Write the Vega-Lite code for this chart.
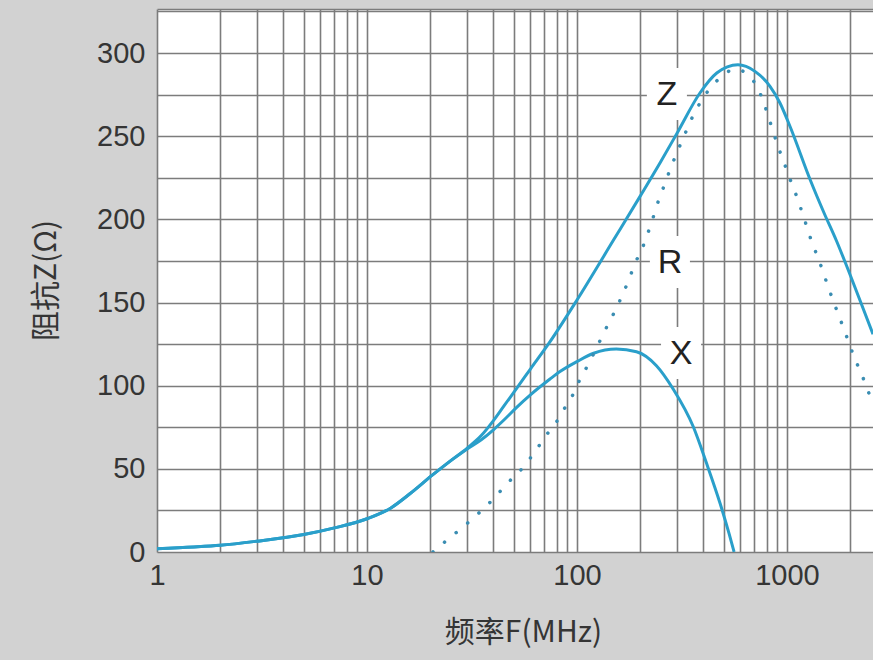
{
  "$schema": "https://vega.github.io/schema/vega-lite/v6.json",
  "width": 716,
  "height": 543,
  "autosize": {"type": "none"},
  "padding": {"left": 157, "top": 9, "right": 0, "bottom": 108},
  "background": "#d2d2d2",
  "view": {"fill": "white", "stroke": null},
  "config": {
    "axis": {
      "domain": false,
      "ticks": false,
      "grid": true,
      "gridColor": "#7c7c7c",
      "gridWidth": 1.6,
      "gridOpacity": 1,
      "labelFont": "Liberation Sans",
      "labelFontSize": 29,
      "labelColor": "#353535",
      "titleFont": "Noto Sans CJK SC",
      "titleFontSize": 30,
      "titleFontWeight": "normal",
      "titleColor": "#353535"
    }
  },
  "datasets": {
    "curves": [
      {"s": "Z", "f": 1, "v": 2}, {"s": "Z", "f": 1.5, "v": 3}, {"s": "Z", "f": 2, "v": 4}, {"s": "Z", "f": 3, "v": 6.5},
      {"s": "Z", "f": 5, "v": 10.5}, {"s": "Z", "f": 7, "v": 14.5}, {"s": "Z", "f": 10, "v": 20}, {"s": "Z", "f": 13, "v": 26.5},
      {"s": "Z", "f": 16, "v": 35}, {"s": "Z", "f": 20.6, "v": 46.5}, {"s": "Z", "f": 24.8, "v": 54.5}, {"s": "Z", "f": 30, "v": 62.5},
      {"s": "Z", "f": 35, "v": 70}, {"s": "Z", "f": 40, "v": 79}, {"s": "Z", "f": 45, "v": 88}, {"s": "Z", "f": 52, "v": 99},
      {"s": "Z", "f": 60, "v": 110}, {"s": "Z", "f": 74, "v": 126}, {"s": "Z", "f": 100, "v": 151.5}, {"s": "Z", "f": 150, "v": 188},
      {"s": "Z", "f": 200, "v": 214}, {"s": "Z", "f": 250, "v": 234.5}, {"s": "Z", "f": 300, "v": 252}, {"s": "Z", "f": 385, "v": 276},
      {"s": "Z", "f": 463, "v": 288}, {"s": "Z", "f": 584, "v": 293}, {"s": "Z", "f": 704, "v": 289}, {"s": "Z", "f": 830, "v": 280},
      {"s": "Z", "f": 926, "v": 270}, {"s": "Z", "f": 1033, "v": 256}, {"s": "Z", "f": 1288, "v": 224}, {"s": "Z", "f": 1500, "v": 204},
      {"s": "Z", "f": 1722, "v": 187}, {"s": "Z", "f": 1889, "v": 174.5}, {"s": "Z", "f": 2200, "v": 153}, {"s": "Z", "f": 2568, "v": 131},

      {"s": "X", "f": 1, "v": 2}, {"s": "X", "f": 1.5, "v": 3}, {"s": "X", "f": 2, "v": 4}, {"s": "X", "f": 3, "v": 6.5},
      {"s": "X", "f": 5, "v": 10.5}, {"s": "X", "f": 7, "v": 14.5}, {"s": "X", "f": 10, "v": 20}, {"s": "X", "f": 13, "v": 26.5},
      {"s": "X", "f": 16, "v": 35}, {"s": "X", "f": 20.6, "v": 46.5}, {"s": "X", "f": 24.8, "v": 54.5}, {"s": "X", "f": 30, "v": 62},
      {"s": "X", "f": 35, "v": 67.5}, {"s": "X", "f": 40, "v": 73.5}, {"s": "X", "f": 45, "v": 79.5}, {"s": "X", "f": 51.6, "v": 87},
      {"s": "X", "f": 60, "v": 94.5}, {"s": "X", "f": 74.4, "v": 104}, {"s": "X", "f": 83, "v": 108.5}, {"s": "X", "f": 100, "v": 114.5},
      {"s": "X", "f": 120, "v": 119.5}, {"s": "X", "f": 154, "v": 122}, {"s": "X", "f": 192, "v": 120.4}, {"s": "X", "f": 239, "v": 112},
      {"s": "X", "f": 287, "v": 98}, {"s": "X", "f": 358, "v": 75.3}, {"s": "X", "f": 414, "v": 53.3}, {"s": "X", "f": 480, "v": 29.3},
      {"s": "X", "f": 530, "v": 11}, {"s": "X", "f": 560, "v": 0},

      {"s": "R", "f": 20.6, "v": 0}, {"s": "R", "f": 24.5, "v": 8}, {"s": "R", "f": 28, "v": 14}, {"s": "R", "f": 32, "v": 20.3},
      {"s": "R", "f": 36.5, "v": 27}, {"s": "R", "f": 41, "v": 33.3}, {"s": "R", "f": 46, "v": 40.7}, {"s": "R", "f": 52.6, "v": 47.7},
      {"s": "R", "f": 59, "v": 55.3}, {"s": "R", "f": 65, "v": 62.7}, {"s": "R", "f": 71.6, "v": 70.4}, {"s": "R", "f": 80, "v": 78.4},
      {"s": "R", "f": 87.6, "v": 86.8}, {"s": "R", "f": 95.8, "v": 94.8}, {"s": "R", "f": 103, "v": 103.4}, {"s": "R", "f": 112, "v": 111.8},
      {"s": "R", "f": 131, "v": 129}, {"s": "R", "f": 142, "v": 138}, {"s": "R", "f": 154, "v": 146.5}, {"s": "R", "f": 165, "v": 155},
      {"s": "R", "f": 177, "v": 164}, {"s": "R", "f": 189, "v": 173.6}, {"s": "R", "f": 203, "v": 181.6}, {"s": "R", "f": 216, "v": 190.6},
      {"s": "R", "f": 229, "v": 200}, {"s": "R", "f": 241, "v": 209}, {"s": "R", "f": 256, "v": 218}, {"s": "R", "f": 272, "v": 227},
      {"s": "R", "f": 290, "v": 236}, {"s": "R", "f": 310, "v": 244.7}, {"s": "R", "f": 333, "v": 253.8}, {"s": "R", "f": 356, "v": 262},
      {"s": "R", "f": 389, "v": 270.8}, {"s": "R", "f": 430, "v": 278.8}, {"s": "R", "f": 488, "v": 285.8}, {"s": "R", "f": 565, "v": 290.4},
      {"s": "R", "f": 662, "v": 286.2}, {"s": "R", "f": 730, "v": 278.2}, {"s": "R", "f": 779, "v": 269.4}, {"s": "R", "f": 820, "v": 260.8},
      {"s": "R", "f": 866, "v": 251.4}, {"s": "R", "f": 916, "v": 242.3}, {"s": "R", "f": 971, "v": 233.7}, {"s": "R", "f": 1033, "v": 224.3},
      {"s": "R", "f": 1098, "v": 215.7}, {"s": "R", "f": 1231, "v": 197.2}, {"s": "R", "f": 1300, "v": 188}, {"s": "R", "f": 1384, "v": 179},
      {"s": "R", "f": 1472, "v": 170}, {"s": "R", "f": 1555, "v": 161}, {"s": "R", "f": 1650, "v": 152}, {"s": "R", "f": 1754, "v": 143},
      {"s": "R", "f": 1868, "v": 134}, {"s": "R", "f": 1981, "v": 125}, {"s": "R", "f": 2108, "v": 116}, {"s": "R", "f": 2266, "v": 107},
      {"s": "R", "f": 2411, "v": 98}, {"s": "R", "f": 2568, "v": 89.4}
    ],
    "labels": [
      {"t": "Z", "f": 268, "v": 275.4},
      {"t": "R", "f": 277, "v": 174.4},
      {"t": "X", "f": 313, "v": 119.6}
    ]
  },
  "encoding": {
    "x": {
      "field": "f",
      "type": "quantitative",
      "scale": {"type": "log", "domain": [1, 2568], "nice": false},
      "axis": {
        "values": [1,2,3,4,5,6,7,8,9,10,20,30,40,50,60,70,80,90,100,200,300,400,500,600,700,800,900,1000,2000],
        "labelExpr": "datum.value == 1 || datum.value == 10 || datum.value == 100 || datum.value == 1000 ? format(datum.value, 'd') : ''",
        "labelOverlap": false,
        "labelFlush": false,
        "labelBound": false,
        "labelPadding": 9,
        "title": "频率F(MHz)",
        "titleX": 366,
        "titleY": 89,
        "titleBaseline": "alphabetic",
        "titleAnchor": null,
        "titleAlign": "center"
      }
    },
    "y": {
      "field": "v",
      "type": "quantitative",
      "scale": {"domain": [0, 326.5], "nice": false, "zero": false},
      "axis": {
        "values": [0,25,50,75,100,125,150,175,200,225,250,275,300,325,326.5],
        "labelExpr": "datum.value % 50 == 0 ? format(datum.value, 'd') : ''",
        "labelOverlap": false,
        "labelBound": false,
        "labelFlush": false,
        "labelPadding": 12,
        "title": "阻抗Z(Ω)",
        "titleX": -102,
        "titleY": 271,
        "titleAngle": -90,
        "titleBaseline": "alphabetic",
        "titleAlign": "center"
      }
    }
  },
  "layer": [
    {
      "data": {"name": "labels"},
      "mark": {"type": "point", "shape": "M-0.77,-1H0.77V1H-0.77Z", "size": 2704, "filled": true, "color": "white", "opacity": 1, "strokeWidth": 0}
    },
    {
      "data": {"name": "curves"},
      "transform": [{"filter": "datum.s != 'R'"}],
      "mark": {"type": "line", "interpolate": "monotone", "color": "#2a9fca", "strokeWidth": 3, "clip": true},
      "encoding": {"detail": {"field": "s"}}
    },
    {
      "data": {"name": "curves"},
      "transform": [{"filter": "datum.s == 'R'"}],
      "mark": {"type": "line", "interpolate": "monotone", "color": "#3a8db2", "strokeWidth": 3.5, "strokeDash": [0.1, 15], "strokeCap": "round", "clip": true},
      "encoding": {}
    },
    {
      "data": {"name": "labels"},
      "mark": {"type": "text", "font": "Liberation Sans", "fontSize": 34, "color": "#222222", "baseline": "middle", "align": "center", "dy": 1},
      "encoding": {"text": {"field": "t"}}
    }
  ]
}
